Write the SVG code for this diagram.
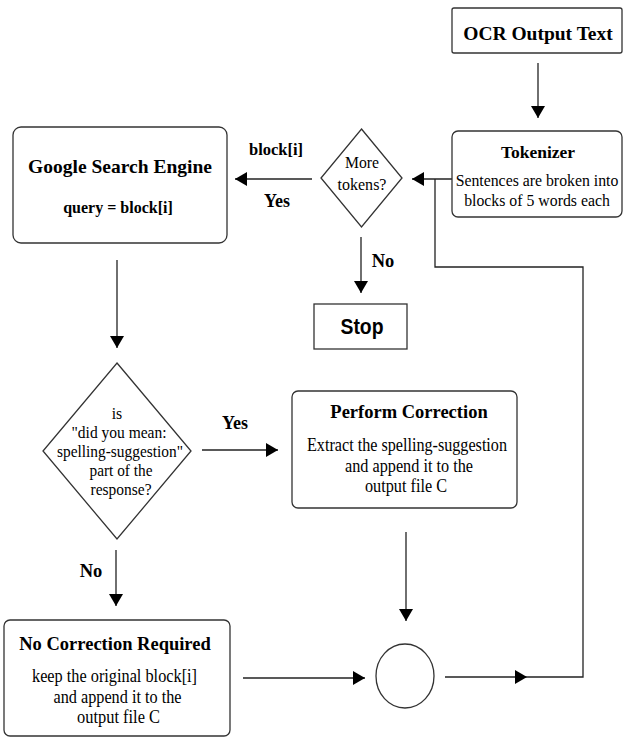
<svg xmlns="http://www.w3.org/2000/svg" width="623" height="737" viewBox="0 0 623 737">
<style>
.box{fill:#fff;stroke:#333;stroke-width:1.3}
.ln{fill:none;stroke:#222;stroke-width:1.3}
.t{font-family:"Liberation Serif","Times New Roman",serif;fill:#000;text-anchor:middle}
.b{font-weight:bold}
.body{font-size:18px}
</style>
<defs>
<marker id="ah" markerUnits="userSpaceOnUse" markerWidth="12" markerHeight="14" refX="12" refY="7" orient="auto">
<path d="M0,0 L12,7 L0,14 z" fill="#000"/>
</marker>
</defs>
<rect width="623" height="737" fill="#fff"/>
<g id="connectors">
<path class="ln" d="M538,63 V118" marker-end="url(#ah)"/>
<path class="ln" d="M452,179 H412" marker-end="url(#ah)"/>
<path class="ln" d="M527,677 H583 V267 H435 V179"/>
<path class="ln" d="M445,677 H527" marker-end="url(#ah)"/>
<path class="ln" d="M312,179 H235" marker-end="url(#ah)"/>
<path class="ln" d="M361,237 V293" marker-end="url(#ah)"/>
<path class="ln" d="M117,260 V348" marker-end="url(#ah)"/>
<path class="ln" d="M202,450 H278" marker-end="url(#ah)"/>
<path class="ln" d="M116,550 V606" marker-end="url(#ah)"/>
<path class="ln" d="M406,532 V621" marker-end="url(#ah)"/>
<path class="ln" d="M243,678 H365" marker-end="url(#ah)"/>
<text class="t b" x="276" y="155" font-size="16.5">block[i]</text>
<text class="t b" x="277" y="207" font-size="18">Yes</text>
<text class="t b" x="383" y="267" font-size="18.5">No</text>
<text class="t b" x="235" y="429" font-size="18">Yes</text>
<text class="t b" x="91" y="577" font-size="18.5">No</text>
</g>
<g id="ocr">
<rect class="box" x="452" y="8" width="170" height="45" rx="2"/>
<text class="t b" x="538" y="40" font-size="19.5">OCR Output Text</text>
</g>
<g id="tokenizer">
<rect class="box" x="452" y="131" width="170" height="86" rx="6"/>
<text class="t b" x="538" y="158" font-size="17.5">Tokenizer</text>
<text class="t" x="537" y="186" font-size="15.8">Sentences are broken into</text>
<text class="t" x="537" y="206" font-size="15.8">blocks of 5 words each</text>
</g>
<g id="more-tokens">
<polygon class="box" points="361.5,129 402,178 361.5,227 321,178"/>
<text class="t" x="362" y="168" font-size="17.5" textLength="34" lengthAdjust="spacingAndGlyphs">More</text>
<text class="t" x="362" y="190" font-size="17.5" textLength="49" lengthAdjust="spacingAndGlyphs">tokens?</text>
</g>
<g id="google">
<rect class="box" x="13" y="127" width="214" height="116" rx="8"/>
<text class="t b" x="120" y="173" font-size="19.5">Google Search Engine</text>
<text class="t b" x="118" y="213" font-size="16">query = block[i]</text>
</g>
<g id="stop">
<rect class="box" x="314" y="304" width="93" height="45"/>
<text x="362" y="334" font-size="21.5" font-weight="bold" font-family="'Liberation Sans',Arial,sans-serif" text-anchor="middle" textLength="43" lengthAdjust="spacingAndGlyphs">Stop</text>
</g>
<g id="did-you-mean">
<polygon class="box" points="117,363 191,451 117,539 43,451"/>
<text class="t" x="117" y="419" font-size="17" textLength="10.5" lengthAdjust="spacingAndGlyphs">is</text>
<text class="t" x="119" y="438" font-size="17" textLength="95" lengthAdjust="spacingAndGlyphs">"did you mean:</text>
<text class="t" x="120" y="457" font-size="17" textLength="126" lengthAdjust="spacingAndGlyphs">spelling-suggestion"</text>
<text class="t" x="121" y="476" font-size="17" textLength="63" lengthAdjust="spacingAndGlyphs">part of the</text>
<text class="t" x="121" y="495" font-size="17" textLength="61" lengthAdjust="spacingAndGlyphs">response?</text>
</g>
<g id="perform-correction">
<rect class="box" x="292" y="391" width="225" height="117" rx="6"/>
<text class="t b" x="409" y="418" font-size="18.5">Perform Correction</text>
<text class="t body" x="407" y="451" textLength="200" lengthAdjust="spacingAndGlyphs">Extract the spelling-suggestion</text>
<text class="t body" x="409" y="472" textLength="128" lengthAdjust="spacingAndGlyphs">and append it to the</text>
<text class="t body" x="406" y="492" textLength="82" lengthAdjust="spacingAndGlyphs">output file C</text>
</g>
<g id="no-correction">
<rect class="box" x="4" y="620" width="226" height="116" rx="6"/>
<text class="t b" x="115" y="650" font-size="18.5">No Correction Required</text>
<text class="t body" x="114.5" y="682" textLength="165" lengthAdjust="spacingAndGlyphs">keep the original block[i]</text>
<text class="t body" x="117.5" y="703" textLength="128" lengthAdjust="spacingAndGlyphs">and append it to the</text>
<text class="t body" x="118.5" y="723" textLength="83" lengthAdjust="spacingAndGlyphs">output file C</text>
</g>
<g id="merge">
<ellipse class="box" cx="405" cy="676" rx="29" ry="32"/>
</g>
</svg>
